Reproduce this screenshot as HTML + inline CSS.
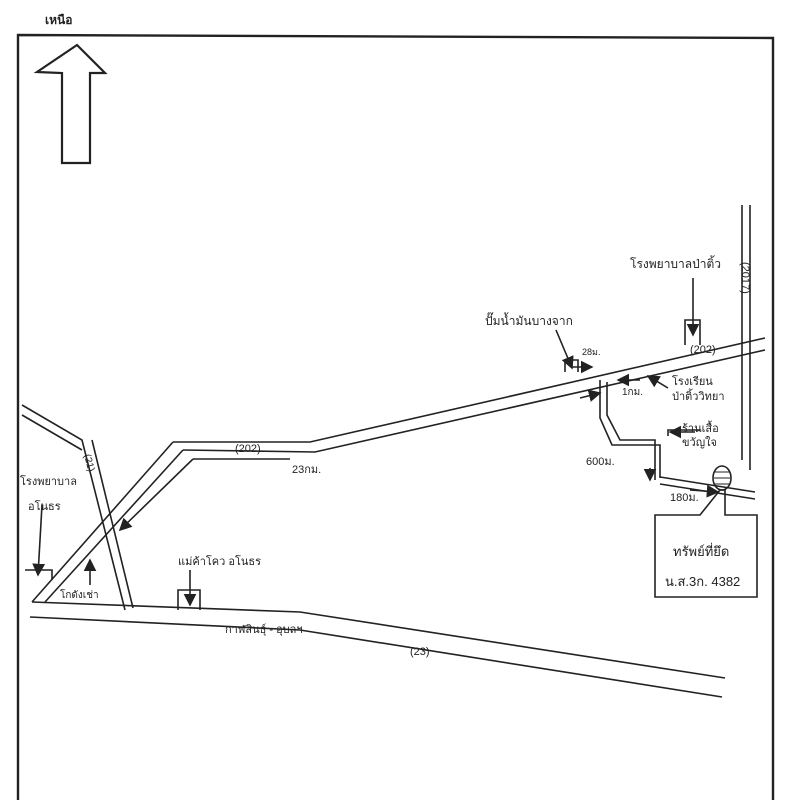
<!DOCTYPE html>
<html><head><meta charset="utf-8"><style>
html,body{margin:0;padding:0;background:#fff;}
svg{display:block}
text{font-family:"Liberation Sans",sans-serif;fill:#222;}
</style></head><body>
<svg width="789" height="800" viewBox="0 0 789 800" xmlns="http://www.w3.org/2000/svg">
<defs><marker id="a" markerWidth="8" markerHeight="8" refX="7" refY="4" orient="auto"><path d="M0,0 L8,4 L0,8 z" fill="#222"/></marker></defs>
<g fill="none" stroke="#222" stroke-width="1.6">
<!-- border -->
<path d="M18,800 L18,35 L773,38 L773,800" stroke-width="2.4"/>
<!-- north arrow -->
<path d="M62,163 L62,73 L37,72 L77,45 L105,73 L90,73 L90,163 Z" stroke-width="2.2"/>
<!-- road 202 -->
<path d="M173,442 L310,442 L765,338"/>
<path d="M183,450 L315,452 L765,350"/>
<path d="M193,459 L290,459"/>
<path d="M173,442 L32,602"/>
<path d="M183,450 L45,602"/>
<path d="M193,459 L120,530" marker-end="url(#a)"/>
<!-- road 21 -->
<path d="M22,405 L82,440 L125,610"/>
<path d="M22,415 L82,450"/>
<path d="M92,440 L133,608"/>
<!-- road 23 -->
<path d="M32,602 L300,612 L725,678"/>
<path d="M30,617 L300,630 L722,697"/>
<!-- road 2017 -->
<path d="M742,205 L742,460"/><path d="M750,205 L750,470"/>
<!-- side road -->
<path d="M600,380 L600,418 L612,445 L660,445 L660,478"/>
<path d="M607,382 L607,415 L620,440 L655,440 L655,480"/>
<path d="M660,477 L755,492"/><path d="M660,484 L755,499"/>
<path d="M668,436 L668,430 L700,430"/>
<!-- boxes -->
<path d="M565,372 L565,360 L578,360 L578,372"/>
<path d="M685,345 L685,320 L700,320 L700,345"/>
<path d="M178,610 L178,590 L200,590 L200,610"/>
<path d="M25,570 L52,570 L52,580"/>
<path d="M655,597 L655,515 L700,515 L720,490 L725,490 L725,515 L757,515 L757,597 Z"/>
<ellipse cx="722" cy="478" rx="9" ry="12"/>
<path d="M715,472 L729,472 M714,478 L730,478 M715,484 L729,484" stroke-width="1"/>
<!-- arrows -->
<path d="M693,278 L693,335" marker-end="url(#a)"/>
<path d="M556,330 L572,368" marker-end="url(#a)"/>
<path d="M572,367 L592,367" marker-end="url(#a)"/>
<path d="M640,380 L618,380" marker-end="url(#a)"/>
<path d="M668,388 L648,376" marker-end="url(#a)"/>
<path d="M580,398 L600,393" marker-end="url(#a)"/>
<path d="M695,432 L670,432" marker-end="url(#a)"/>
<path d="M650,468 L650,480" marker-end="url(#a)"/>
<path d="M690,490 L718,492" marker-end="url(#a)"/>
<path d="M42,505 L38,575" marker-end="url(#a)"/>
<path d="M90,585 L90,560" marker-end="url(#a)"/>
<path d="M190,570 L190,605" marker-end="url(#a)"/>
</g>
<text x="45" y="24" font-size="12" font-weight="bold">เหนือ</text>
<text x="630" y="268" font-size="12">โรงพยาบาลป่าติ้ว</text>
<text x="485" y="325" font-size="12">ปั๊มน้ำมันบางจาก</text>
<text x="582" y="355" font-size="9">28ม.</text>
<text x="690" y="353" font-size="11">(202)</text>
<text x="622" y="395" font-size="10">1กม.</text>
<text x="672" y="385" font-size="11">โรงเรียน</text>
<text x="672" y="400" font-size="11">ป่าติ้ววิทยา</text>
<text x="682" y="432" font-size="11">ร้านเสื้อ</text>
<text x="682" y="446" font-size="11">ขวัญใจ</text>
<text x="586" y="465" font-size="11">600ม.</text>
<text x="670" y="501" font-size="11">180ม.</text>
<text x="673" y="556" font-size="13">ทรัพย์ที่ยึด</text>
<text x="665" y="586" font-size="13">น.ส.3ก. 4382</text>
<text x="0" y="0" font-size="11" transform="translate(742,262) rotate(90)">(2017)</text>
<text x="235" y="452" font-size="11">(202)</text>
<text x="292" y="473" font-size="11">23กม.</text>
<text x="20" y="485" font-size="11">โรงพยาบาล</text>
<text x="28" y="510" font-size="11">อโนธร</text>
<text x="60" y="598" font-size="10">โกดังเช่า</text>
<text x="178" y="565" font-size="11">แม่ค้าโคว อโนธร</text>
<text x="225" y="633" font-size="11">กาฬสินธุ์ - อุบลฯ</text>
<text x="410" y="655" font-size="11">(23)</text>
<text x="0" y="0" font-size="10" transform="translate(84,455) rotate(75)">(21)</text>
</svg>
</body></html>
